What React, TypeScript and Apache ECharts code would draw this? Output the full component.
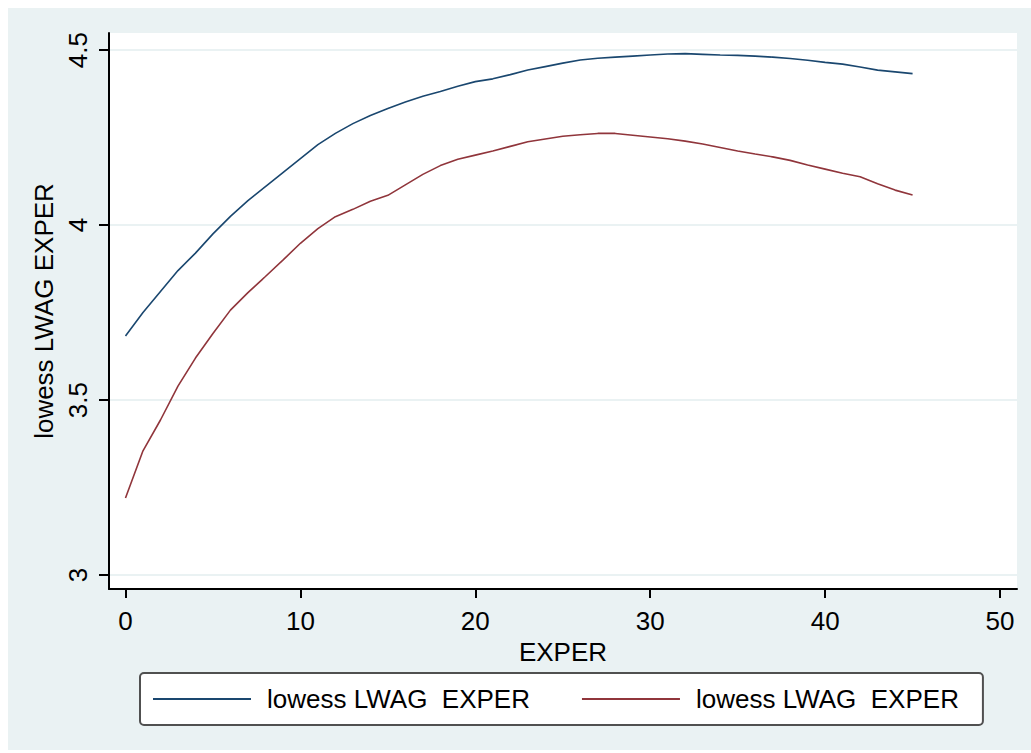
import React, { useEffect, useRef } from 'react';
import * as echarts from 'echarts';

const EXPER = [
  0, 1, 2, 3, 4, 5, 6, 7, 8, 9, 10, 11, 12, 13, 14, 15, 16, 17, 18, 19, 20, 21, 22,
  23, 24, 25, 26, 27, 28, 29, 30, 31, 32, 33, 34, 35, 36, 37, 38, 39, 40, 41, 42, 43, 44, 45,
];
const LOWESS_BLUE = [
  3.683, 3.75, 3.81, 3.87, 3.92, 3.975, 4.025, 4.07, 4.11, 4.15, 4.19, 4.23, 4.262, 4.29,
  4.313, 4.333, 4.352, 4.368, 4.382, 4.397, 4.41, 4.418, 4.43, 4.443, 4.453, 4.463, 4.472,
  4.477, 4.48, 4.483, 4.486, 4.489, 4.49, 4.488, 4.486, 4.485, 4.483, 4.48, 4.476, 4.471,
  4.465, 4.46, 4.452, 4.443, 4.438, 4.433,
];
const LOWESS_RED = [
  3.22, 3.355, 3.443, 3.54, 3.62, 3.69, 3.757, 3.807, 3.853, 3.9, 3.948, 3.99, 4.024, 4.045,
  4.068, 4.085, 4.115, 4.145, 4.17, 4.188, 4.2, 4.212, 4.225, 4.238, 4.246, 4.254, 4.258,
  4.262, 4.262, 4.257, 4.252, 4.247, 4.24, 4.232, 4.222, 4.212, 4.203, 4.195, 4.185, 4.172,
  4.16, 4.148, 4.138, 4.118, 4.1, 4.086,
];
const X_TICKS = [0, 10, 20, 30, 40, 50];
const Y_TICKS = [3, 3.5, 4, 4.5];
const SERIES_LABEL = 'lowess LWAG  EXPER';
const Y_TITLE = 'lowess LWAG EXPER';
const X_TITLE = 'EXPER';

const FONT = '"Liberation Sans", Arial, sans-serif';
const BG = '#eaf2f3';
const NAVY = '#1a476f';
const MAROON = '#90353b';

export default function App() {
  const ref = useRef<HTMLDivElement>(null);
  useEffect(() => {
    const chart = echarts.init(ref.current!, null, { renderer: 'svg' });
    const blue = EXPER.map((x, i) => [x, LOWESS_BLUE[i]]);
    const red = EXPER.map((x, i) => [x, LOWESS_RED[i]]);
    chart.setOption({
      animation: false,
      backgroundColor: BG,
      textStyle: { fontFamily: FONT, color: '#000' },
      grid: {
        left: 101,
        top: 25,
        width: 908,
        height: 556,
        show: true,
        backgroundColor: '#ffffff',
        borderWidth: 0,
        containLabel: false,
      },
      legend: {
        left: 132,
        top: 665,
        orient: 'horizontal',
        padding: [13, 24, 13, 13],
        itemGap: 52,
        itemWidth: 98,
        itemHeight: 26,
        icon: 'path://M0,0H98V2H0Z',
        backgroundColor: '#ffffff',
        borderColor: '#505050',
        borderWidth: 2,
        borderRadius: 4,
        selectedMode: false,
        formatter: (name: string) => name.replace(/ #\d$/, ''),
        textStyle: {
          fontFamily: FONT,
          fontSize: 26,
          color: '#000',
          padding: [0, 0, 0, 11],
        },
        data: [SERIES_LABEL + ' #1', SERIES_LABEL + ' #2'],
      },
      xAxis: {
        type: 'value',
        min: -0.943,
        max: 50.97,
        name: X_TITLE,
        nameLocation: 'middle',
        nameGap: 40,
        nameTextStyle: { fontFamily: FONT, fontSize: 26, color: '#000' },
        axisLine: { show: true, onZero: false, lineStyle: { color: '#000', width: 2 } },
        axisTick: {
          show: true,
          length: 9,
          customValues: X_TICKS,
          lineStyle: { color: '#000', width: 2 },
        },
        axisLabel: {
          customValues: X_TICKS,
          fontFamily: FONT,
          fontSize: 26,
          color: '#000',
          margin: 19,
        },
        splitLine: { show: false },
      },
      yAxis: {
        type: 'value',
        min: 2.96,
        max: 4.549,
        name: Y_TITLE,
        nameLocation: 'middle',
        nameGap: 44,
        nameRotate: 90,
        nameTextStyle: { fontFamily: FONT, fontSize: 26, color: '#000' },
        axisLine: { show: true, onZero: false, lineStyle: { color: '#000', width: 2 } },
        axisTick: {
          show: true,
          length: 10,
          customValues: Y_TICKS,
          lineStyle: { color: '#000', width: 2 },
        },
        axisLabel: {
          customValues: Y_TICKS,
          rotate: 90,
          fontFamily: FONT,
          fontSize: 26,
          color: '#000',
          margin: 18,
        },
        splitLine: { show: true, lineStyle: { color: BG, width: 2 } },
      },
      series: [
        {
          name: SERIES_LABEL + ' #1',
          type: 'line',
          data: blue,
          symbol: 'none',
          smooth: false,
          lineStyle: { color: NAVY, width: 1.6 },
          itemStyle: { color: NAVY },
        },
        {
          name: SERIES_LABEL + ' #2',
          type: 'line',
          data: red,
          symbol: 'none',
          smooth: false,
          lineStyle: { color: MAROON, width: 1.6 },
          itemStyle: { color: MAROON },
        },
      ],
    });
    return () => chart.dispose();
  }, []);
  return (
    <div
      ref={ref}
      style={{ position: 'fixed', left: 8, top: 8, width: 1023, height: 742 }}
    />
  );
}
